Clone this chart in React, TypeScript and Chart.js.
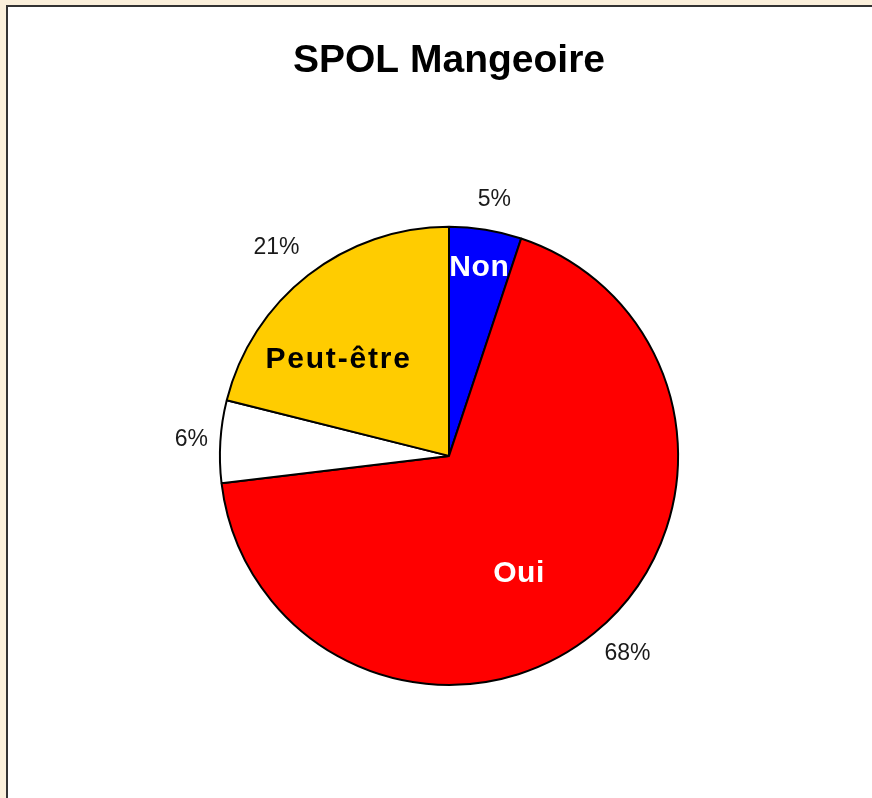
import React, { useEffect, useRef } from "react";
import { Chart, registerables } from "chart.js";

Chart.register(...registerables);

const TITLE = "SPOL Mangeoire";
const categories = ["Non", "Oui", "", "Peut-être"];
const values = [5.1, 68.0, 5.8, 21.1];
const sliceColors = ["#0000FF", "#FF0000", "#FFFFFF", "#FFCC00"];
const innerLabelColors = ["#FFFFFF", "#FFFFFF", "#000000", "#000000"];

const FONT = "'Liberation Sans', Arial, Helvetica, sans-serif";

const labelPlugin = {
  id: "sliceLabels",
  afterDatasetsDraw(chart: any, _args: any, opts: any) {
    const ctx = chart.ctx;
    const meta = chart.getDatasetMeta(0);
    const data = chart.data.datasets[0].data as number[];
    const total = data.reduce((a: number, b: number) => a + b, 0);
    meta.data.forEach((arc: any, i: number) => {
      const p = arc.getProps(["x", "y", "startAngle", "endAngle", "outerRadius"], true);
      const base = (p.startAngle + p.endAngle) / 2;
      ctx.save();
      ctx.textAlign = "center";
      ctx.textBaseline = "middle";
      // outer percentage
      const ro = p.outerRadius + opts.outerOffset[i];
      const midO = base + opts.outerNudge[i];
      ctx.font = `23px ${FONT}`;
      ctx.fillStyle = "#1a1a1a";
      ctx.fillText(
        Math.round((data[i] / total) * 100) + "%",
        p.x + Math.cos(midO) * ro,
        p.y + Math.sin(midO) * ro
      );
      // inner category label
      const name = chart.data.labels[i];
      if (name) {
        const mid = base + opts.innerNudge[i];
        const ri = p.outerRadius * opts.innerRadius[i];
        ctx.font = `bold 30px ${FONT}`;
        (ctx as any).letterSpacing = i === 3 ? "1.8px" : "0.6px";
        ctx.fillStyle = innerLabelColors[i];
        ctx.fillText(name, p.x + Math.cos(mid) * ri, p.y + Math.sin(mid) * ri);
      }
      ctx.restore();
    });
  },
};

export default function App() {
  const ref = useRef<HTMLCanvasElement>(null);
  useEffect(() => {
    document.body.style.margin = "0";
    const chart = new Chart(ref.current!, {
      type: "pie",
      data: {
        labels: categories,
        datasets: [
          {
            data: values,
            backgroundColor: sliceColors,
            borderColor: "#000000",
            borderWidth: 2,
          },
        ],
      },
      options: {
        animation: false,
        responsive: false,
        events: [],
        layout: { padding: { left: 200, right: 182, top: 0, bottom: 112 } },
        plugins: {
          legend: { display: false },
          tooltip: { enabled: false },
          title: {
            display: true,
            text: TITLE,
            color: "#000000",
            font: { family: FONT, size: 39, weight: "bold", lineHeight: 1.2 },
            padding: { top: 31, bottom: 141 },
          },
          sliceLabels: {
            innerRadius: [0.83, 0.6, 0.6, 0.64],
            innerNudge: [0, 0.15, 0, -0.19],
            outerOffset: [31, 37, 29, 41],
            outerNudge: [0.015, -0.05, 0, -0.03],
          },
        } as any,
      },
      plugins: [labelPlugin],
    });
    return () => chart.destroy();
  }, []);

  return (
    <div
      style={{
        position: "fixed",
        inset: 0,
        background: "#FBF0DB",
        overflow: "hidden",
      }}
    >
      <div
        style={{
          position: "absolute",
          left: 6,
          top: 5,
          width: 880,
          height: 810,
          border: "2px solid #333333",
          background: "#FFFFFF",
        }}
      >
        <canvas ref={ref} width={864} height={791} style={{ display: "block" }} />
      </div>
    </div>
  );
}
